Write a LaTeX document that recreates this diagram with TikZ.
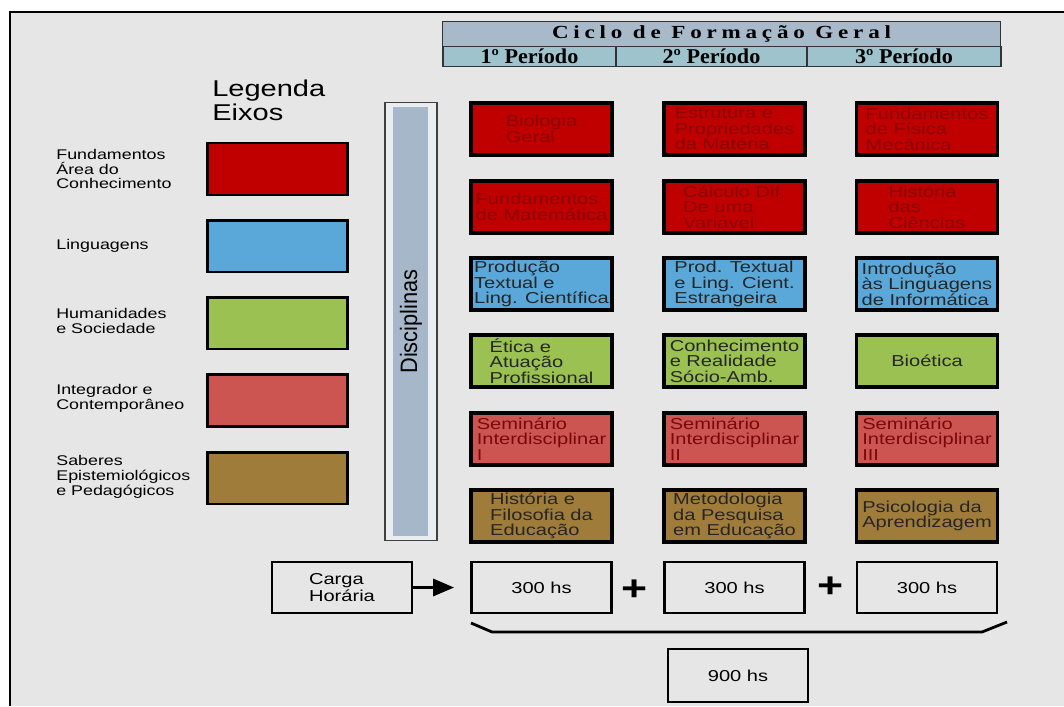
\documentclass[tikz,border=0pt]{standalone}
\usepackage{fontspec}
\setmainfont{Liberation Sans}[FakeStretch=1.27]
\newfontfamily\headfont{Liberation Serif}[FakeStretch=1.05]
\newfontfamily\headwidefont{Liberation Serif}[FakeStretch=1.25, LetterSpace=26]
\newfontfamily\discfont{Liberation Sans}[FakeStretch=0.92]
\usepackage{xcolor}
\usepackage{tikz}
\usetikzlibrary{arrows.meta,positioning}

\definecolor{bgray}{HTML}{E6E6E6}
\definecolor{eixored}{HTML}{C00000}
\definecolor{eixoredtxt}{HTML}{8A0606}
\definecolor{eixoblue}{HTML}{5AA8DA}
\definecolor{eixogreen}{HTML}{9BC152}
\definecolor{eixopink}{HTML}{CC5552}
\definecolor{eixopinktxt}{HTML}{7A0808}
\definecolor{eixobrown}{HTML}{A07C3A}
\definecolor{headblue}{HTML}{A8B9CA}
\definecolor{headteal}{HTML}{9EC3CD}
\definecolor{barblue}{HTML}{A7B7CA}
\definecolor{barpale}{HTML}{EAEDF0}

\tikzset{
    headcell/.style={draw=black!80, line width=0.6pt, minimum height=0.4cm, inner sep=0pt,
        font=\headfont\bfseries\fontsize{12}{12}\selectfont},
    legbox/.style={draw=black, line width=1.7pt, minimum width=2.82cm, minimum height=1.04cm},
    leglabel/.style={anchor=west, align=left, inner sep=0pt, font=\fontsize{8}{8.5}\selectfont},
    disc/.style={draw=black, line width=2pt, minimum width=2.82cm, minimum height=1.04cm,
        inner sep=0pt, align=left, font=\fontsize{9}{8.8}\selectfont},
    redbox/.style={disc, fill=eixored, text=eixoredtxt},
    bluebox/.style={disc, fill=eixoblue, text=black!85},
    greenbox/.style={disc, fill=eixogreen, text=black!85},
    pinkbox/.style={disc, fill=eixopink, text=eixopinktxt},
    brownbox/.style={disc, fill=eixobrown, text=black!85},
    hourbox/.style={draw=black, line width=1.6pt, minimum width=2.8cm, minimum height=1.02cm,
        inner sep=0pt, align=left, font=\fontsize{9}{9.5}\selectfont},
    plussign/.style={inner sep=0pt, font=\bfseries\fontsize{20}{20}\selectfont}
}

\begin{document}
\begin{tikzpicture}[x=0.02cm, y=-0.02cm]
    \useasboundingbox (0,0) rectangle (1064,706);
    % Frame
    \fill[bgray] (10,12) rectangle (1064,706);
    \draw[line width=1.2pt] (10,706) -- (10,12) -- (1064,12);

    % Header
    \node[headcell, fill=headblue, minimum width=11.18cm, minimum height=0.5cm,
        font=\headwidefont\bfseries\fontsize{10.5}{10.5}\selectfont] (ciclo) at (721.5,34)
        {Ciclo de Formação Geral};
    \node[headcell, fill=headteal, minimum width=3.46cm] (per1) at (529.5,56.5) {1º Período};
    \node[headcell, fill=headteal, minimum width=3.82cm] (per2) at (711.5,56.5) {2º Período};
    \node[headcell, fill=headteal, minimum width=3.88cm] (per3) at (904,56.5) {3º Período};

    % Legend
    \node[anchor=west, align=left, inner sep=0pt, font=\fontsize{13}{13.6}\selectfont] (legtitle) at (212,100) {Legenda\\Eixos};
    \node[legbox, fill=eixored] (lred) at (277.5,169) {};
    \node[legbox, fill=eixoblue] (lblue) at (277.5,246) {};
    \node[legbox, fill=eixogreen] (lgreen) at (277.5,323) {};
    \node[legbox, fill=eixopink] (lpink) at (277.5,400.5) {};
    \node[legbox, fill=eixobrown] (lbrown) at (277.5,478) {};
    \node[leglabel] (tred) at (56,169) {Fundamentos\\Área do\\Conhecimento};
    \node[leglabel] (tblue) at (56,246) {Linguagens};
    \node[leglabel] (tgreen) at (56,321) {Humanidades\\e Sociedade};
    \node[leglabel] (tpink) at (56,398.5) {Integrador e\\Contemporâneo};
    \node[leglabel] (tbrown) at (56,477) {Saberes\\Epistemiológicos\\e Pedagógicos};

    % Disciplinas bar
    \node[draw=black!75, fill=barpale, line width=0.6pt, minimum width=1.04cm, minimum height=8.78cm] (discbar) at (411,321.5) {};
    \fill[barblue] (393,107) rectangle (428,536);
    \node[rotate=90, inner sep=0pt, font=\discfont\fontsize{13.5}{13.5}\selectfont] (disctext) at (discbar.center) {Disciplinas};

    % Disciplines, 1st period
    \node[redbox] (b11) at (541.5,129) {Biologia\\Geral};
    \node[redbox] (b21) at (541.5,207) {Fundamentos\\de Matemática};
    \node[bluebox] (b31) at (541.5,284) {Produção\\Textual e\\Ling. Científica};
    \node[greenbox] (b41) at (541.5,361) {Ética e\\Atuação\\Profissional};
    \node[pinkbox] (b51) at (541.5,439) {Seminário\\Interdisciplinar\\I};
    \node[brownbox] (b61) at (541.5,516) {História e\\Filosofia da\\Educação};

    % Disciplines, 2nd period
    \node[redbox] (b12) at (734.5,129) {Estrutura e\\Propriedades\\da Matéria};
    \node[redbox] (b22) at (734.5,207) {Cálculo Dif.\\De uma\\Variável};
    \node[bluebox] (b32) at (734.5,284) {Prod. Textual\\e Ling. Cient.\\Estrangeira};
    \node[greenbox] (b42) at (734.5,361) {Conhecimento\\e Realidade\\Sócio-Amb.};
    \node[pinkbox] (b52) at (734.5,439) {Seminário\\Interdisciplinar\\II};
    \node[brownbox] (b62) at (734.5,516) {Metodologia\\da Pesquisa\\em Educação};

    % Disciplines, 3rd period
    \node[redbox] (b13) at (927,129) {Fundamentos\\de Física\\Mecânica};
    \node[redbox] (b23) at (927,207) {História\\das\\Ciências};
    \node[bluebox] (b33) at (927,284) {Introdução\\às Linguagens\\de Informática};
    \node[greenbox] (b43) at (927,361) {Bioética};
    \node[pinkbox] (b53) at (927,439) {Seminário\\Interdisciplinar\\III};
    \node[brownbox] (b63) at (927,516) {Psicologia da\\Aprendizagem};

    % Workload
    \node[hourbox] (carga) at (342,587.5) {Carga\\Horária};
    \node[hourbox] (h1) at (541.5,587.5) {300 hs};
    \node[hourbox] (h2) at (734.5,587.5) {300 hs};
    \node[hourbox] (h3) at (927,587.5) {300 hs};
    \node[plussign] (plus1) at (635,590) {+};
    \node[plussign] (plus2) at (831,587) {+};
    \draw[line width=1.7pt, -{Triangle[length=0.42cm, width=0.34cm]}, shorten >=0.32cm] (carga) -- (h1);

    % Total
    \draw[line width=1.6pt] (471,623) -- (492,632) -- (982,632) -- (1007,622);
    \node[hourbox, minimum height=1.06cm] (total) at (738,675.5) {900 hs};
\end{tikzpicture}
\end{document}
